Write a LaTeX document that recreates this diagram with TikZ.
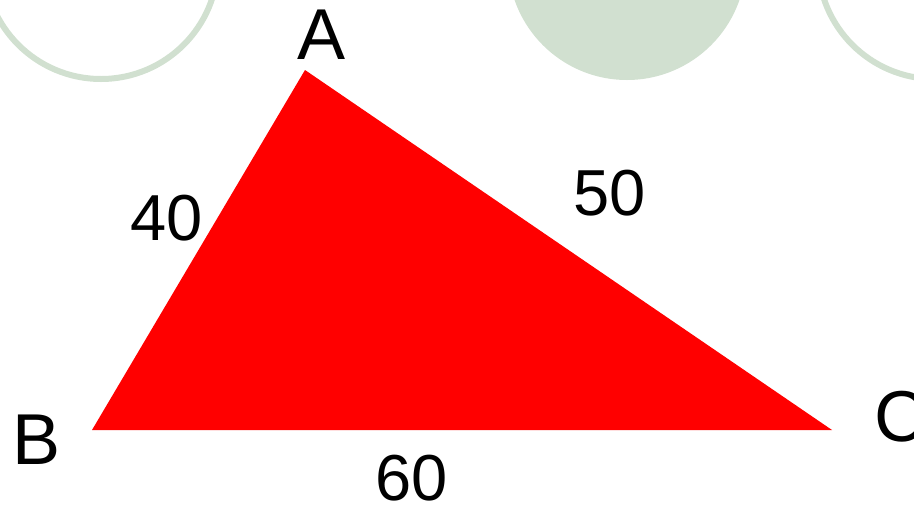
\documentclass[tikz,border=0pt]{standalone}
\usepackage{fontspec}
\setmainfont{Liberation Sans}
\usepackage{xcolor}
\usetikzlibrary{positioning}
\definecolor{paleleaf}{RGB}{209,224,208}
\tikzset{
  ring/.style={draw=paleleaf, line width=0.12cm},
  disc/.style={fill=paleleaf},
  vertex/.style={inner sep=0pt, font=\fontsize{41}{48}\selectfont},
  side/.style={inner sep=0pt, font=\fontsize{37}{44}\selectfont},
  every node/.style={text=black}
}

\begin{document}
\begin{tikzpicture}
    \useasboundingbox (0,0) rectangle (18.28,-10.1);
    \clip (0,0) rectangle (18.28,-10.1);
    % background circles
    \draw[ring] (2.02,0.76) circle (2.34);
    \fill[disc] (12.54,0.78) circle (2.38);
    \draw[ring] (18.70,0.76) circle (2.34);

    % triangle
    \coordinate (a) at (6.10,-1.40);
    \coordinate (b) at (1.84,-8.60);
    \coordinate (c) at (16.64,-8.60);
    \fill[red] (a) -- (b) -- (c) -- cycle;

    \node[vertex] (la) at (6.43,-0.70) {A};
    \node[vertex] (lb) at (0.74,-8.80) {B};
    \node[vertex] (lc) at (18.00,-8.33) {C};
    \node[side] (ab) at (3.33,-4.37) {40};
    \node[side] (ac) at (12.19,-3.87) {50};
    \node[side] (bc) at (8.23,-9.56) {60};
\end{tikzpicture}
\end{document}
